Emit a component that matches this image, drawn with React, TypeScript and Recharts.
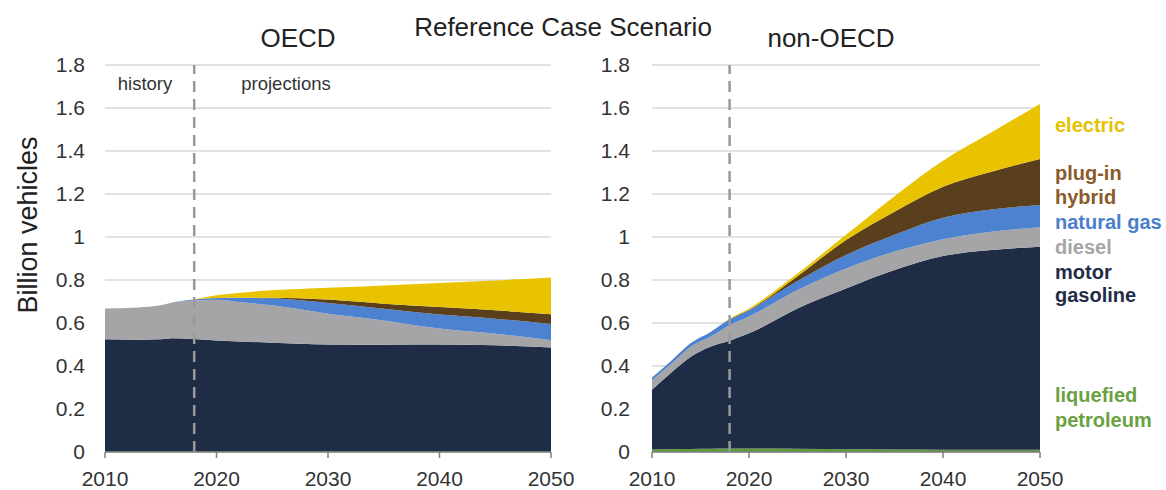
import { AreaChart, Area, XAxis, YAxis, CartesianGrid, ReferenceLine } from 'recharts';

// billion vehicles by fuel type
const oecdYears = [2010, 2013, 2015, 2016, 2018, 2020, 2022, 2025, 2030, 2035, 2040, 2045, 2050];
const oecdLpg = [0.002, 0.002, 0.002, 0.002, 0.002, 0.002, 0.002, 0.002, 0.002, 0.002, 0.002, 0.002, 0.002];
const oecdGasoline = [0.522, 0.52, 0.522, 0.527, 0.524, 0.517, 0.512, 0.506, 0.498, 0.497, 0.498, 0.494, 0.484];
const oecdDiesel = [0.143, 0.15, 0.158, 0.166, 0.179, 0.189, 0.184, 0.174, 0.143, 0.113, 0.074, 0.054, 0.034];
const oecdNatGas = [0, 0, 0, 0, 0.004, 0.008, 0.019, 0.033, 0.05, 0.054, 0.065, 0.07, 0.075];
const oecdPlugIn = [0, 0, 0, 0, 0, 0, 0.001, 0.003, 0.016, 0.024, 0.035, 0.039, 0.046];
const oecdElectric = [0, 0, 0, 0, 0.001, 0.013, 0.022, 0.034, 0.055, 0.085, 0.112, 0.139, 0.171];

const nonOecdYears = [2010, 2012, 2014, 2016, 2018, 2020, 2025, 2030, 2035, 2040, 2045, 2050];
const nonOecdLpg = [0.012, 0.013, 0.014, 0.015, 0.016, 0.016, 0.015, 0.013, 0.012, 0.011, 0.01, 0.01];
const nonOecdGasoline = [0.278, 0.357, 0.429, 0.475, 0.502, 0.536, 0.653, 0.748, 0.835, 0.901, 0.93, 0.945];
const nonOecdDiesel = [0.045, 0.04, 0.047, 0.046, 0.072, 0.078, 0.085, 0.093, 0.085, 0.078, 0.085, 0.09];
const nonOecdNatGas = [0.012, 0.015, 0.017, 0.021, 0.027, 0.03, 0.042, 0.062, 0.078, 0.1, 0.103, 0.104];
const nonOecdPlugIn = [0, 0, 0, 0, 0, 0.001, 0.023, 0.07, 0.108, 0.144, 0.176, 0.214];
const nonOecdElectric = [0, 0, 0, 0, 0.003, 0.007, 0.012, 0.024, 0.072, 0.121, 0.183, 0.256];

const yTicks = [0, 0.2, 0.4, 0.6, 0.8, 1, 1.2, 1.4, 1.6, 1.8];
const xTicks = [2010, 2020, 2030, 2040, 2050];
const lastHistoryYear = 2018;

const FONT = '"Liberation Sans", Arial, sans-serif';

const series = [
  { key: 'lpg', color: '#5e9c3a' },
  { key: 'gasoline', color: '#1f2c46' },
  { key: 'diesel', color: '#a5a5a8' },
  { key: 'natGas', color: '#4d82d1' },
  { key: 'plugIn', color: '#5a3f1c' },
  { key: 'electric', color: '#e9c300' },
];

function buildRows(years: number[], lpg: number[], gasoline: number[], diesel: number[], natGas: number[], plugIn: number[], electric: number[]) {
  return years.map((year, i) => ({
    year,
    lpg: lpg[i],
    gasoline: gasoline[i],
    diesel: diesel[i],
    natGas: natGas[i],
    plugIn: plugIn[i],
    electric: electric[i],
  }));
}

const oecdData = buildRows(oecdYears, oecdLpg, oecdGasoline, oecdDiesel, oecdNatGas, oecdPlugIn, oecdElectric);
const nonOecdData = buildRows(nonOecdYears, nonOecdLpg, nonOecdGasoline, nonOecdDiesel, nonOecdNatGas, nonOecdPlugIn, nonOecdElectric);

interface PanelProps {
  data: Array<Record<string, number>>;
  left: number;
  width: number;
  yAxisWidth: number;
  marginRight: number;
  labelGap: number;
}

function Panel({ data, left, width, yAxisWidth, marginRight, labelGap }: PanelProps) {
  return (
    <div style={{ position: 'absolute', left, top: 0 }}>
      <AreaChart width={width} height={490} data={data} margin={{ top: 65, right: marginRight, left: 0, bottom: 8 }}>
        <CartesianGrid vertical={false} stroke="#d9d9d9" strokeWidth={1.5} />
        <XAxis
          dataKey="year"
          type="number"
          domain={[2010, 2050]}
          ticks={xTicks}
          height={30}
          stroke="#7f7f7f"
          strokeWidth={1.5}
          tickSize={6}
          tickMargin={13}
          tick={{ fontSize: 21, fill: '#333', fontFamily: FONT }}
        />
        <YAxis
          type="number"
          domain={[0, 1.8]}
          ticks={yTicks}
          width={yAxisWidth}
          axisLine={false}
          tickLine={false}
          tickSize={0}
          tickMargin={labelGap}
          tick={{ fontSize: 21, fill: '#333', fontFamily: FONT }}
        />
        {series.map((s) => (
          <Area
            key={s.key}
            type="monotone"
            dataKey={s.key}
            stackId="fuel"
            stroke="none"
            fill={s.color}
            fillOpacity={1}
            isAnimationActive={false}
          />
        ))}
        <ReferenceLine x={lastHistoryYear} stroke="#999" strokeWidth={2.5} strokeDasharray="11 7" />
      </AreaChart>
    </div>
  );
}

const legendLines = [
  { text: 'electric', color: '#e6c100', y: 132 },
  { text: 'plug-in', color: '#8a5a2b', y: 180 },
  { text: 'hybrid', color: '#8a5a2b', y: 204 },
  { text: 'natural gas', color: '#4a7fcb', y: 229 },
  { text: 'diesel', color: '#a6a6a6', y: 254 },
  { text: 'motor', color: '#1f2d47', y: 279 },
  { text: 'gasoline', color: '#1f2d47', y: 302 },
  { text: 'liquefied', color: '#6aa142', y: 402 },
  { text: 'petroleum', color: '#6aa142', y: 427 },
];

export default function App() {
  return (
    <div style={{ position: 'absolute', left: 0, top: 0, width: 1166, height: 490, background: '#fff', fontFamily: FONT, overflow: 'hidden' }}>
      <Panel data={oecdData} left={0} width={600} yAxisWidth={105} marginRight={49} labelGap={20} />
      <Panel data={nonOecdData} left={570} width={540} yAxisWidth={82} marginRight={70} labelGap={22} />

      <svg width={1166} height={490} style={{ position: 'absolute', left: 0, top: 0, pointerEvents: 'none' }} fontFamily={FONT}>
        <text x={563} y={36} textAnchor="middle" fontSize={26} fill="#222">Reference Case Scenario</text>
        <text x={298} y={47} textAnchor="middle" fontSize={26} fill="#222">OECD</text>
        <text x={831} y={47} textAnchor="middle" fontSize={26} fill="#222">non-OECD</text>
        <text x={145} y={90} textAnchor="middle" fontSize={18.5} fill="#333">history</text>
        <text x={286} y={90} textAnchor="middle" fontSize={18.5} fill="#333">projections</text>
        <text transform="translate(37 225) rotate(-90)" textAnchor="middle" fontSize={27} fill="#222">Billion vehicles</text>
        {legendLines.map((l) => (
          <text key={l.text} x={1055} y={l.y} fontSize={20} fontWeight="bold" fill={l.color}>{l.text}</text>
        ))}
      </svg>
    </div>
  );
}
